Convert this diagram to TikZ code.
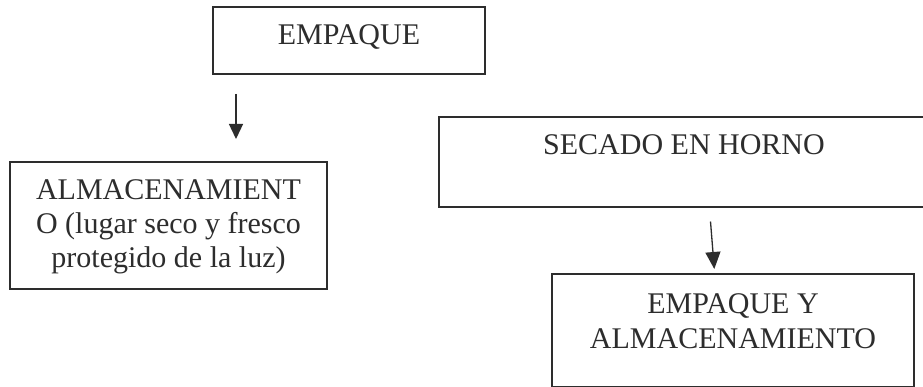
\documentclass[tikz,border=0pt]{standalone}
\usepackage{fontspec}
\setmainfont{Liberation Serif}
\usetikzlibrary{arrows.meta}
\definecolor{ink}{RGB}{45,45,45}
\tikzset{
  box/.style={draw=ink, line width=1.4pt, inner sep=0pt, outer sep=0pt, rectangle},
  boxtext/.style={text=ink, font=\fontsize{30}{34.5}\selectfont, align=center, inner sep=0pt, anchor=base},
  flow/.style={draw=ink, line width=1.3pt, -{Triangle[width=14pt,length=15pt]}},
}
\begin{document}
\begin{tikzpicture}[x=1pt,y=-1pt]
\clip (0,0) rectangle (923,387);
\fill[white] (0,0) rectangle (923,387);
% boxes
\node[box, minimum width=272pt, minimum height=67pt, anchor=north west] (b1) at (213,7) {};
\node[box, minimum width=317pt, minimum height=127pt, anchor=north west] (b2) at (10,162) {};
\node[box, minimum width=490pt, minimum height=90pt, anchor=north west] (b3) at (439,117) {};
\node[box, minimum width=362pt, minimum height=112.5pt, anchor=north west] (b4) at (552,274) {};
% texts
\node[boxtext] (t1) at (349,45) {EMPAQUE};
\node[boxtext] (t2) at (168.5,200) {ALMACENAMIENT};
\node[boxtext] (t2b) at (168.5,234) {O (lugar seco y fresco};
\node[boxtext] (t2c) at (168.5,267.5) {protegido de la luz)};
\node[boxtext] (t3) at (684,155) {SECADO EN HORNO};
\node[boxtext] (t4) at (733,313) {EMPAQUE Y};
\node[boxtext] (t4b) at (733,348) {ALMACENAMIENTO};
% connectors
\coordinate (a1s) at (236,94);
\coordinate (a1e) at (236,139);
\coordinate (a2s) at (710.5,221.5);
\coordinate (a2e) at (714.3,269);
\draw[flow] (a1s) -- (a1e);
\draw[flow, -{Triangle[width=15pt,length=17pt]}] (a2s) -- (a2e);
\end{tikzpicture}
\end{document}
